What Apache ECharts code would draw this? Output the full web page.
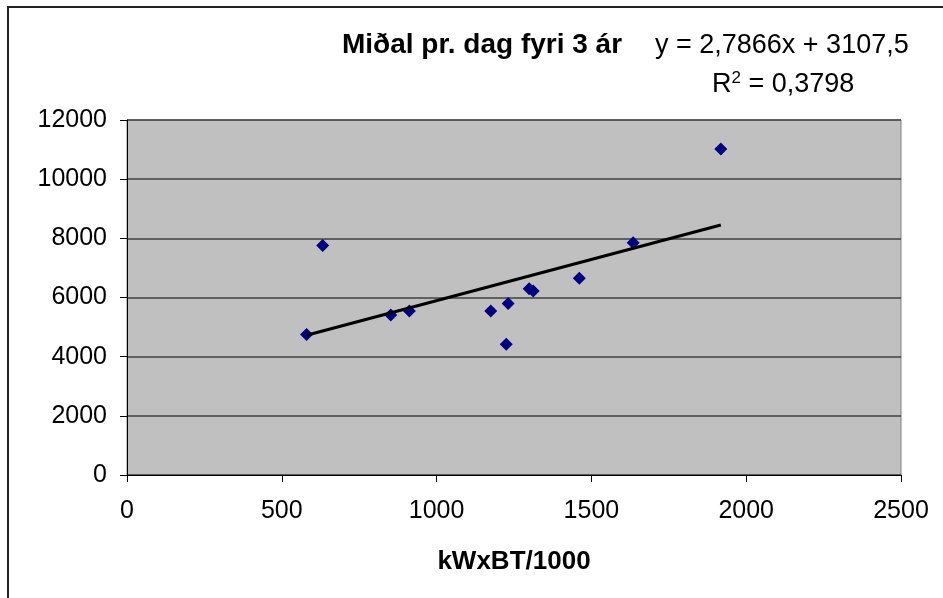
<!DOCTYPE html>
<html>
<head>
<meta charset="utf-8">
<script src="https://cdn.jsdelivr.net/npm/echarts@6/dist/echarts.min.js"></script>
<style>html,body{margin:0;padding:0;background:#fff}#c{width:943px;height:598px}</style>
</head>
<body>
<div id="c"></div>
<script>
// Data
const xValues = [580, 632, 852, 912, 1175, 1231, 1225, 1299, 1312, 1461, 1635, 1918];
const yValues = [4750, 7760, 5410, 5540, 5540, 5800, 4420, 6300, 6220, 6650, 7850, 11020];
const trendSlope = 2.7866;
const trendIntercept = 3107.5;
const xTicks = [0, 500, 1000, 1500, 2000, 2500];
const yTicks = [0, 2000, 4000, 6000, 8000, 10000, 12000];
const chartTitle = 'Miðal pr. dag fyri 3 ár';
const equationText = 'y = 2,7866x + 3107,5';
const r2Value = '0,3798';
const xAxisName = 'kWxBT/1000';

const FONT = "'Liberation Sans', Arial, sans-serif";
const points = xValues.map((x, i) => [x, yValues[i]]);
const xMinData = Math.min(...xValues), xMaxData = Math.max(...xValues);
const trend = [xMinData, xMaxData].map(x => [x, trendSlope * x + trendIntercept]);

const chart = echarts.init(document.getElementById('c'), null, {renderer: 'canvas'});
chart.setOption({
  backgroundColor: '#ffffff',
  animation: false,
  textStyle: {fontFamily: FONT},
  grid: {left: 127, right: 42, top: 120, bottom: 123, show: true,
         backgroundColor: '#C0C0C0', borderColor: '#808080', borderWidth: 1},
  xAxis: {
    type: 'value', min: xTicks[0], max: xTicks[xTicks.length - 1], interval: 500,
    name: xAxisName, nameLocation: 'middle', nameGap: 74,
    nameTextStyle: {fontFamily: FONT, fontSize: 26, fontWeight: 'bold', color: '#000'},
    axisLine: {show: true, onZero: false, lineStyle: {color: '#000', width: 1}},
    axisTick: {show: true, inside: false, length: 7, lineStyle: {color: '#000'}},
    axisLabel: {fontFamily: FONT, fontSize: 25, color: '#000', margin: 24,
                formatter: v => String(v)},
    splitLine: {show: false}
  },
  yAxis: {
    type: 'value', min: yTicks[0], max: yTicks[yTicks.length - 1], interval: 2000,
    axisLine: {show: true, onZero: false, lineStyle: {color: '#000', width: 1}},
    axisTick: {show: true, inside: false, length: 7, lineStyle: {color: '#000'}},
    axisLabel: {fontFamily: FONT, fontSize: 25, color: '#000', margin: 20,
                formatter: v => String(v)},
    splitLine: {show: true, lineStyle: {color: '#404040', width: 1.5}}
  },
  series: [
    {type: 'scatter', data: points, symbol: 'diamond', symbolSize: 13,
     itemStyle: {color: '#000080', opacity: 1}, z: 2},
    {type: 'line', data: trend, showSymbol: false, symbol: 'none',
     lineStyle: {color: '#000', width: 3}, z: 3, silent: true}
  ],
  graphic: [
    {type: 'rect', shape: {x: 8, y: 7, width: 1200, height: 1200},
     style: {fill: 'none', stroke: '#222', lineWidth: 2}, silent: true},
    {type: 'text', left: 342, top: 31,
     style: {text: chartTitle, font: "bold 28px " + FONT, fill: '#000'}},
    {type: 'text', left: 655, top: 32,
     style: {text: equationText, font: "27px " + FONT, fill: '#000'}},
    {type: 'text', left: 712, top: 70,
     style: {text: 'R{s|2} = ' + r2Value, font: "27px " + FONT, fill: '#000',
       rich: {s: {fontSize: 17, fontFamily: FONT, verticalAlign: 'top', padding: [0, 0, 12, 0]}}}}
  ]
});
</script>
</body>
</html>
